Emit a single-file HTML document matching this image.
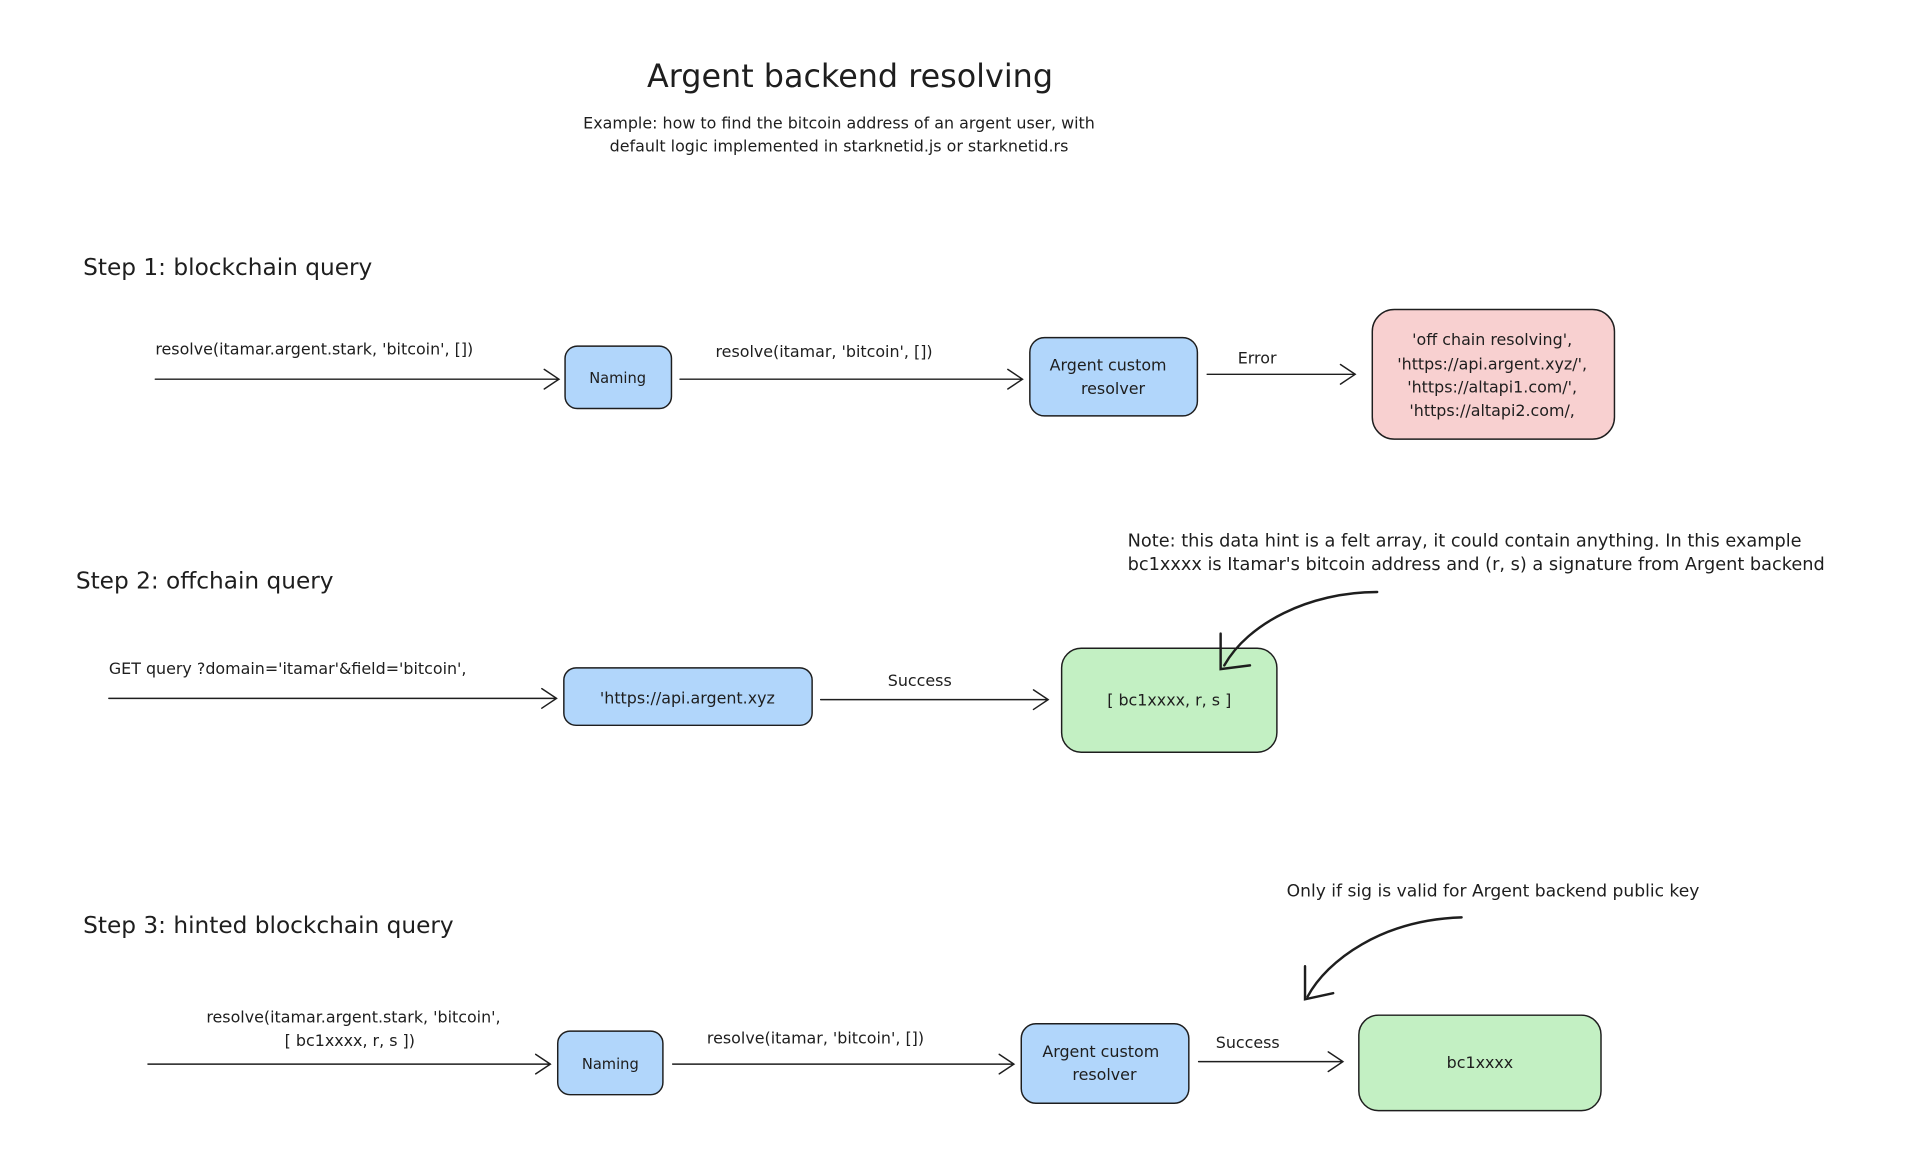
<!DOCTYPE html>
<html><head><meta charset="utf-8"><style>
html,body{margin:0;padding:0;background:#fff;width:1908px;height:1162px;overflow:hidden}
svg{display:block}
text{font-family:"DejaVu Sans","Liberation Sans",sans-serif;fill:#1e1e1e}
</style></head><body>
<svg width="1908" height="1162" viewBox="0 0 1560 950" xmlns="http://www.w3.org/2000/svg">
<g fill="none" stroke="#1e1e1e" stroke-width="1.2" stroke-linecap="round">
<path d="M127 310 L457 310 M445 302 L457 310 L445 318"/>
<path d="M556 310 L836 310 M824 302 L836 310 L824 318"/>
<path d="M987 306 L1108 306 M1096 298 L1108 306 L1096 314"/>
<path d="M89 571 L455 571 M443 563 L455 571 L443 579"/>
<path d="M671 572 L857 572 M845 564 L857 572 L845 580"/>
<path d="M121 870 L450 870 M438 862 L450 870 L438 878"/>
<path d="M550 870 L829 870 M817 862 L829 870 L817 878"/>
<path d="M980 868 L1098 868 M1086 860 L1098 868 L1086 876"/>
</g>
<g stroke="#1e1e1e" stroke-width="1.2">
<rect x="462" y="283" width="87" height="51" rx="10" fill="#b1d6fb"/>
<rect x="842" y="276" width="137" height="64" rx="12" fill="#b1d6fb"/>
<rect x="1122" y="253" width="198" height="106" rx="18" fill="#f8d0d0"/>
<rect x="461" y="546" width="203" height="47" rx="10" fill="#b1d6fb"/>
<rect x="868" y="530" width="176" height="85" rx="16" fill="#c3f0c3"/>
<rect x="456" y="843" width="86" height="52" rx="10" fill="#b1d6fb"/>
<rect x="835" y="837" width="137" height="65" rx="12" fill="#b1d6fb"/>
<rect x="1111" y="830" width="198" height="78" rx="16" fill="#c3f0c3"/>
</g>
<g fill="none" stroke="#1e1e1e" stroke-width="2" stroke-linecap="round">
<path d="M1126 484 C1070 484 1020 510 1001 544"/>
<path d="M998 518 L998 547 L1022 544"/>
<path d="M1195 750 C1130 752 1085 785 1069 815"/>
<path d="M1067 790 L1067 817 L1090 812"/>
</g>
<text x="695" y="71" font-size="26" text-anchor="middle">Argent backend resolving</text>
<text x="686" y="105" font-size="13" text-anchor="middle">Example: how to find the bitcoin address of an argent user, with</text>
<text x="686" y="124" font-size="13" text-anchor="middle">default logic implemented in starknetid.js or starknetid.rs</text>
<text x="68" y="225" font-size="19">Step 1: blockchain query</text>
<text x="62" y="481" font-size="19">Step 2: offchain query</text>
<text x="68" y="763" font-size="19">Step 3: hinted blockchain query</text>
<g font-size="13">
<text x="127" y="290">resolve(itamar.argent.stark, 'bitcoin', [])</text>
<text x="505" y="313" text-anchor="middle" font-size="12">Naming</text>
<text x="585" y="292">resolve(itamar, 'bitcoin', [])</text>
<text x="906" y="303" text-anchor="middle">Argent custom</text>
<text x="910" y="322" text-anchor="middle">resolver</text>
<text x="1012" y="297">Error</text>
<text x="1220" y="282" text-anchor="middle">'off chain resolving',</text>
<text x="1220" y="302" text-anchor="middle">'https://api.argent.xyz/',</text>
<text x="1220" y="321" text-anchor="middle">'https://altapi1.com/',</text>
<text x="1220" y="340" text-anchor="middle">'https://altapi2.com/,</text>
<text x="922" y="447" font-size="14.5">Note: this data hint is a felt array, it could contain anything. In this example</text>
<text x="922" y="466" font-size="14.5">bc1xxxx is Itamar's bitcoin address and (r, s) a signature from Argent backend</text>
<text x="89" y="551">GET query ?domain='itamar'&amp;field='bitcoin',</text>
<text x="562" y="575" text-anchor="middle">'https://api.argent.xyz</text>
<text x="752" y="561" text-anchor="middle">Success</text>
<text x="956" y="577" text-anchor="middle">[ bc1xxxx, r, s ]</text>
<text x="1052" y="733" font-size="14">Only if sig is valid for Argent backend public key</text>
<text x="289" y="836" text-anchor="middle">resolve(itamar.argent.stark, 'bitcoin',</text>
<text x="286" y="855" text-anchor="middle">[ bc1xxxx, r, s ])</text>
<text x="499" y="874" text-anchor="middle" font-size="12">Naming</text>
<text x="578" y="853">resolve(itamar, 'bitcoin', [])</text>
<text x="900" y="864" text-anchor="middle">Argent custom</text>
<text x="903" y="883" text-anchor="middle">resolver</text>
<text x="994" y="857">Success</text>
<text x="1210" y="873" text-anchor="middle">bc1xxxx</text>
</g>
</svg>
</body></html>
